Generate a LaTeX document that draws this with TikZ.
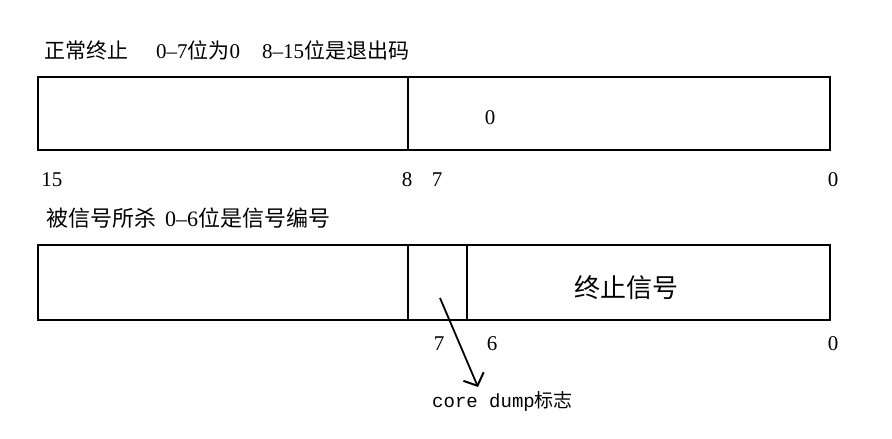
\documentclass[tikz,border=0pt]{standalone}
\usepackage{fontspec}
\setmainfont{Liberation Serif}
\setmonofont{Liberation Mono}
\newfontfamily\cjk{Noto Sans CJK SC}
\usetikzlibrary{positioning,arrows.meta}

\begin{document}
\begin{tikzpicture}[x=1pt, y=-1pt,
  reg/.style={draw, line width=2.4pt, minimum width=792pt, minimum height=73pt, inner sep=0pt},
  sep/.style={line width=2.4pt},
  bit/.style={inner sep=0pt, font=\fontsize{21}{21}\selectfont},
  title/.style={anchor=west, inner sep=0pt, font=\fontsize{21}{21}\selectfont},
  arr/.style={-{Straight Barb[length=10pt, width=22pt, line width=2pt]}, line width=1.8pt}]
\useasboundingbox (0,0) rectangle (892,439);

% normal exit
\node[title] (t1) at (44,50) {{\cjk 正常终止}\hspace{28pt}0--7{\cjk 位为}0\hspace{22pt}8--15{\cjk 位是退出码}};
\node[reg] (exit) at (434,113.5) {};
\coordinate (m8) at (408,0);
\draw[sep] (exit.north -| m8) -- (exit.south -| m8);
\node[bit] (code) at (490,118) {0};
\node[bit] (e15) at (52,180) {15};
\node[bit] (e8) at (407,180) {8};
\node[bit] (e7) at (437,180) {7};
\node[bit] (e0) at (833,180) {0};

% killed by signal
\node[title, font=\fontsize{22}{22}\selectfont] (t2) at (46,218) {{\cjk 被信号所杀}\hspace{9pt}0--6{\cjk 位是信号编号}};
\node[reg, minimum height=75pt] (sig) at (434,282.5) {};
\coordinate (m7) at (408,0);
\coordinate (m6) at (467,0);
\draw[sep] (sig.north -| m7) -- (sig.south -| m7);
\draw[sep] (sig.north -| m6) -- (sig.south -| m6);
\node[inner sep=0pt, font=\fontsize{26}{26}\selectfont\cjk] (signo) at (626,288) {终止信号};
\node[bit] (s7) at (439,344) {7};
\node[bit] (s6) at (492,344) {6};
\node[bit] (s0) at (833,344) {0};
\node[anchor=west, inner sep=0pt, font=\fontsize{19}{19}\selectfont\ttfamily] (flag) at (432,401) {core dump{\cjk 标志}};

\coordinate (cd) at (440,298);
\coordinate (cdtip) at (478,387);
\draw[arr] (cd) -- (cdtip);
\end{tikzpicture}
\end{document}
